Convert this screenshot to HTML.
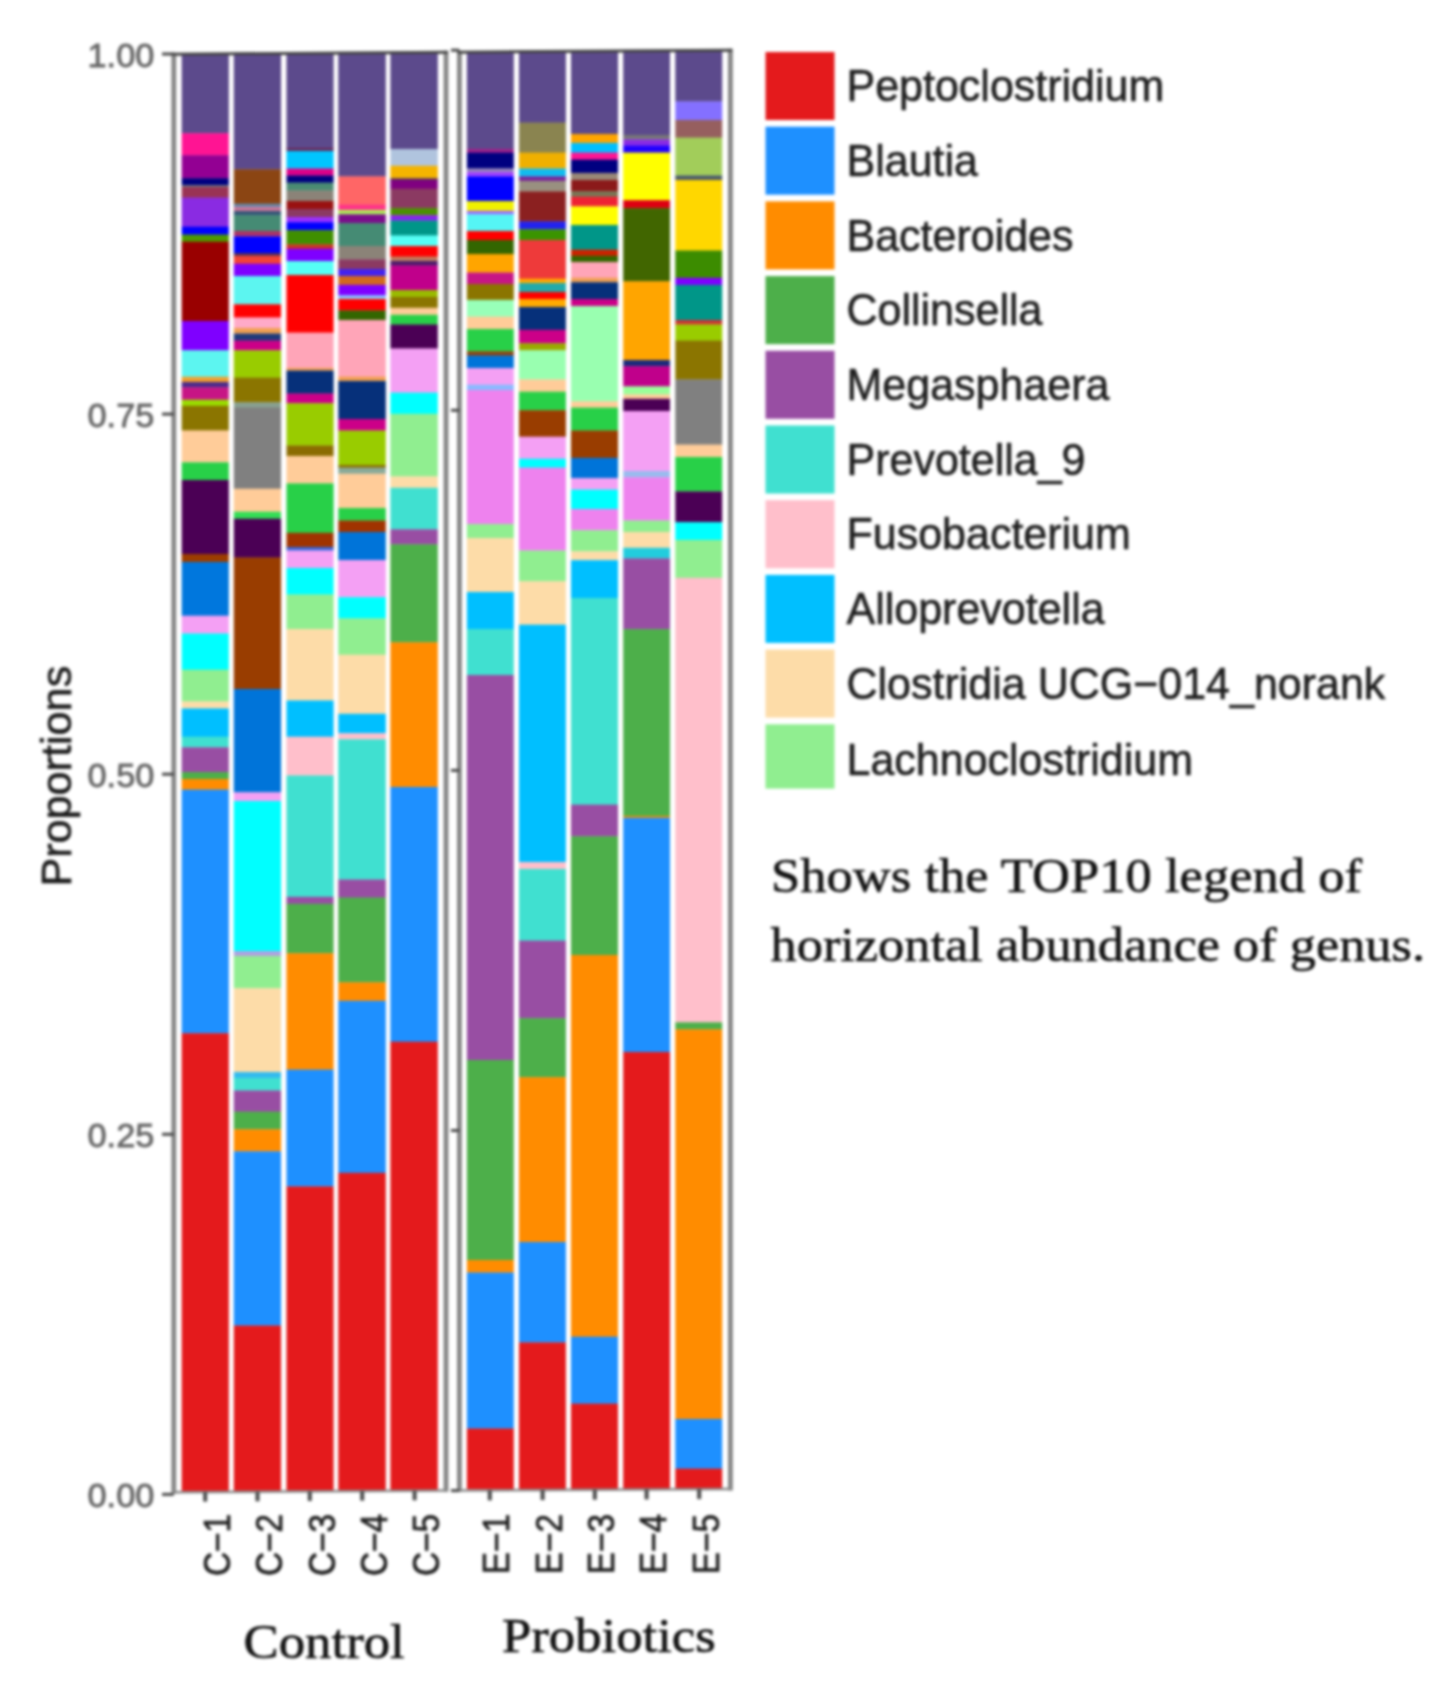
<!DOCTYPE html>
<html><head><meta charset="utf-8"><title>Genus abundance</title>
<style>html,body{margin:0;padding:0;background:#fff;}svg{display:block;filter:blur(1.5px);}text{font-family:"Liberation Sans",sans-serif;}.sf{font-family:"Liberation Serif",serif;}</style></head><body>
<svg width="1449" height="1701" viewBox="0 0 1449 1701">
<rect x="0" y="0" width="1449" height="1701" fill="#fff"/>
<rect x="181.7" y="52.95" width="47.1" height="80.6" fill="#5C4A8C"/>
<rect x="181.7" y="133.2" width="47.1" height="22.35" fill="#FF1493"/>
<rect x="181.7" y="155.2" width="47.1" height="23.35" fill="#930093"/>
<rect x="181.7" y="178.2" width="47.1" height="7.35" fill="#000080"/>
<rect x="181.7" y="185.2" width="47.1" height="2.15" fill="#777777"/>
<rect x="181.7" y="187" width="47.1" height="10.95" fill="#993355"/>
<rect x="181.7" y="197.6" width="47.1" height="29.45" fill="#8A2BE2"/>
<rect x="181.7" y="226.7" width="47.1" height="8.25" fill="#0000FF"/>
<rect x="181.7" y="234.6" width="47.1" height="7.45" fill="#4C9A00"/>
<rect x="181.7" y="241.7" width="47.1" height="79.65" fill="#990000"/>
<rect x="181.7" y="321" width="47.1" height="29.65" fill="#7F00FF"/>
<rect x="181.7" y="350.3" width="47.1" height="26.75" fill="#5CF5F0"/>
<rect x="181.7" y="376.7" width="47.1" height="5.65" fill="#F0A030"/>
<rect x="181.7" y="382" width="47.1" height="5.65" fill="#4B2A8A"/>
<rect x="181.7" y="387.3" width="47.1" height="12.75" fill="#C71585"/>
<rect x="181.7" y="399.7" width="47.1" height="6.45" fill="#99DD00"/>
<rect x="181.7" y="405.8" width="47.1" height="25.05" fill="#8B7500"/>
<rect x="181.7" y="430.5" width="47.1" height="32.15" fill="#FFCC99"/>
<rect x="181.7" y="462.3" width="47.1" height="18.05" fill="#28D048"/>
<rect x="181.7" y="480" width="47.1" height="74.35" fill="#4B0055"/>
<rect x="181.7" y="554" width="47.1" height="8.35" fill="#9C3D00"/>
<rect x="181.7" y="562" width="47.1" height="54.05" fill="#0077DD"/>
<rect x="181.7" y="615.7" width="47.1" height="18.15" fill="#F4A0F4"/>
<rect x="181.7" y="633.5" width="47.1" height="36.55" fill="#00FFFF"/>
<rect x="181.7" y="669.7" width="47.1" height="32.05" fill="#90EE90"/>
<rect x="181.7" y="701.4" width="47.1" height="7.45" fill="#FDDCA8"/>
<rect x="181.7" y="708.5" width="47.1" height="28.55" fill="#00BFFF"/>
<rect x="181.7" y="736.7" width="47.1" height="10.95" fill="#40E0D0"/>
<rect x="181.7" y="747.3" width="47.1" height="25.05" fill="#984EA3"/>
<rect x="181.7" y="772" width="47.1" height="7.35" fill="#4DAF4A"/>
<rect x="181.7" y="779" width="47.1" height="10.95" fill="#FF8C00"/>
<rect x="181.7" y="789.6" width="47.1" height="243.95" fill="#1E90FF"/>
<rect x="181.7" y="1033.2" width="47.1" height="458.15" fill="#E41A1C"/>
<rect x="233.8" y="52.59" width="47.2" height="117.06" fill="#5C4A8C"/>
<rect x="233.8" y="169.3" width="47.2" height="34.75" fill="#8B4513"/>
<rect x="233.8" y="203.7" width="47.2" height="3.65" fill="#6688AA"/>
<rect x="233.8" y="207" width="47.2" height="4.35" fill="#CC7799"/>
<rect x="233.8" y="211" width="47.2" height="4.55" fill="#335577"/>
<rect x="233.8" y="215.2" width="47.2" height="16.15" fill="#458B74"/>
<rect x="233.8" y="231" width="47.2" height="5.75" fill="#AA3366"/>
<rect x="233.8" y="236.4" width="47.2" height="16.95" fill="#0000FF"/>
<rect x="233.8" y="253" width="47.2" height="3.15" fill="#553355"/>
<rect x="233.8" y="255.8" width="47.2" height="8.25" fill="#F44336"/>
<rect x="233.8" y="263.7" width="47.2" height="12.65" fill="#7F00FF"/>
<rect x="233.8" y="276" width="47.2" height="28.65" fill="#5CF5F0"/>
<rect x="233.8" y="304.3" width="47.2" height="13.55" fill="#FF0000"/>
<rect x="233.8" y="317.5" width="47.2" height="10.85" fill="#FFAAC8"/>
<rect x="233.8" y="328" width="47.2" height="5.85" fill="#F0A050"/>
<rect x="233.8" y="333.5" width="47.2" height="7.45" fill="#1F3A7A"/>
<rect x="233.8" y="340.6" width="47.2" height="10.05" fill="#CC0088"/>
<rect x="233.8" y="350.3" width="47.2" height="27.65" fill="#99CC00"/>
<rect x="233.8" y="377.6" width="47.2" height="25.05" fill="#8B7500"/>
<rect x="233.8" y="402.3" width="47.2" height="5.65" fill="#88A090"/>
<rect x="233.8" y="407.6" width="47.2" height="81.45" fill="#808080"/>
<rect x="233.8" y="488.7" width="47.2" height="23.35" fill="#FFCC99"/>
<rect x="233.8" y="511.7" width="47.2" height="7.35" fill="#33DD55"/>
<rect x="233.8" y="518.7" width="47.2" height="39.15" fill="#4B0055"/>
<rect x="233.8" y="557.5" width="47.2" height="131.85" fill="#993D00"/>
<rect x="233.8" y="689" width="47.2" height="103.65" fill="#0074D9"/>
<rect x="233.8" y="792.3" width="47.2" height="9.05" fill="#F4A0F4"/>
<rect x="233.8" y="801" width="47.2" height="150.45" fill="#00FFFF"/>
<rect x="233.8" y="951.1" width="47.2" height="5.25" fill="#B0A0E0"/>
<rect x="233.8" y="956" width="47.2" height="32.55" fill="#90EE90"/>
<rect x="233.8" y="988.2" width="47.2" height="84.15" fill="#FDDCA8"/>
<rect x="233.8" y="1072" width="47.2" height="6.35" fill="#33BBEE"/>
<rect x="233.8" y="1078" width="47.2" height="12.85" fill="#40E0D0"/>
<rect x="233.8" y="1090.5" width="47.2" height="21.45" fill="#984EA3"/>
<rect x="233.8" y="1111.6" width="47.2" height="18.05" fill="#4DAF4A"/>
<rect x="233.8" y="1129.3" width="47.2" height="22.35" fill="#FF8C00"/>
<rect x="233.8" y="1151.3" width="47.2" height="174.55" fill="#1E90FF"/>
<rect x="233.8" y="1325.5" width="47.2" height="165.85" fill="#E41A1C"/>
<rect x="286.5" y="52.22" width="47.1" height="96.13" fill="#5C4A8C"/>
<rect x="286.5" y="148" width="47.1" height="3.35" fill="#6A2A5A"/>
<rect x="286.5" y="151" width="47.1" height="17.85" fill="#00C5FF"/>
<rect x="286.5" y="168.5" width="47.1" height="7.35" fill="#DD0088"/>
<rect x="286.5" y="175.5" width="47.1" height="7.45" fill="#000080"/>
<rect x="286.5" y="182.6" width="47.1" height="8.25" fill="#4A8B73"/>
<rect x="286.5" y="190.5" width="47.1" height="10.85" fill="#8B8378"/>
<rect x="286.5" y="201" width="47.1" height="8.35" fill="#991111"/>
<rect x="286.5" y="209" width="47.1" height="8.35" fill="#8B3A62"/>
<rect x="286.5" y="217" width="47.1" height="5.55" fill="#9B30FF"/>
<rect x="286.5" y="222.2" width="47.1" height="8.35" fill="#0000FF"/>
<rect x="286.5" y="230.2" width="47.1" height="14.45" fill="#3F8F00"/>
<rect x="286.5" y="244.3" width="47.1" height="4.75" fill="#CC3322"/>
<rect x="286.5" y="248.7" width="47.1" height="12.65" fill="#7F00FF"/>
<rect x="286.5" y="261" width="47.1" height="14.35" fill="#55FFF5"/>
<rect x="286.5" y="275" width="47.1" height="57.95" fill="#FF0000"/>
<rect x="286.5" y="332.6" width="47.1" height="35.75" fill="#FFA5B8"/>
<rect x="286.5" y="368" width="47.1" height="2.95" fill="#F0A050"/>
<rect x="286.5" y="370.6" width="47.1" height="23.25" fill="#06307A"/>
<rect x="286.5" y="393.5" width="47.1" height="10.05" fill="#CC0088"/>
<rect x="286.5" y="403.2" width="47.1" height="42.65" fill="#99CC00"/>
<rect x="286.5" y="445.5" width="47.1" height="10.85" fill="#8B6C00"/>
<rect x="286.5" y="456" width="47.1" height="27.75" fill="#FFCC99"/>
<rect x="286.5" y="483.4" width="47.1" height="49.75" fill="#28D048"/>
<rect x="286.5" y="532.8" width="47.1" height="14.55" fill="#A03300"/>
<rect x="286.5" y="547" width="47.1" height="3.85" fill="#3366DD"/>
<rect x="286.5" y="550.5" width="47.1" height="17.85" fill="#F4A0F4"/>
<rect x="286.5" y="568" width="47.1" height="26.85" fill="#00FFFF"/>
<rect x="286.5" y="594.5" width="47.1" height="34.85" fill="#90EE90"/>
<rect x="286.5" y="629" width="47.1" height="71.85" fill="#FDDCA8"/>
<rect x="286.5" y="700.5" width="47.1" height="36.55" fill="#00BFFF"/>
<rect x="286.5" y="736.7" width="47.1" height="39.15" fill="#FFBFCB"/>
<rect x="286.5" y="775.5" width="47.1" height="121.65" fill="#40E0D0"/>
<rect x="286.5" y="896.8" width="47.1" height="7.35" fill="#984EA3"/>
<rect x="286.5" y="903.8" width="47.1" height="49.75" fill="#4DAF4A"/>
<rect x="286.5" y="953.2" width="47.1" height="116.75" fill="#FF8C00"/>
<rect x="286.5" y="1069.6" width="47.1" height="117.15" fill="#1E90FF"/>
<rect x="286.5" y="1186.4" width="47.1" height="304.95" fill="#E41A1C"/>
<rect x="338.3" y="51.86" width="47.5" height="124.89" fill="#5C4A8C"/>
<rect x="338.3" y="176.4" width="47.5" height="28.55" fill="#FF6666"/>
<rect x="338.3" y="204.6" width="47.5" height="5.75" fill="#FF3388"/>
<rect x="338.3" y="210" width="47.5" height="4.65" fill="#AAEE55"/>
<rect x="338.3" y="214.3" width="47.5" height="9.05" fill="#7B0E8B"/>
<rect x="338.3" y="223" width="47.5" height="23.35" fill="#458B74"/>
<rect x="338.3" y="246" width="47.5" height="13.65" fill="#8B8378"/>
<rect x="338.3" y="259.3" width="47.5" height="10.05" fill="#8B3A62"/>
<rect x="338.3" y="269" width="47.5" height="7.35" fill="#4422EE"/>
<rect x="338.3" y="276" width="47.5" height="9.25" fill="#D2691E"/>
<rect x="338.3" y="284.9" width="47.5" height="10.85" fill="#7F00FF"/>
<rect x="338.3" y="295.4" width="47.5" height="3.95" fill="#88CCFF"/>
<rect x="338.3" y="299" width="47.5" height="11.75" fill="#FF0000"/>
<rect x="338.3" y="310.4" width="47.5" height="9.95" fill="#336600"/>
<rect x="338.3" y="320" width="47.5" height="57.05" fill="#FFA5B8"/>
<rect x="338.3" y="376.7" width="47.5" height="4.65" fill="#F0A050"/>
<rect x="338.3" y="381" width="47.5" height="38.35" fill="#06307A"/>
<rect x="338.3" y="419" width="47.5" height="11.85" fill="#CC0088"/>
<rect x="338.3" y="430.5" width="47.5" height="34.85" fill="#99CC00"/>
<rect x="338.3" y="465" width="47.5" height="2.95" fill="#8B6C00"/>
<rect x="338.3" y="467.6" width="47.5" height="6.45" fill="#88AA99"/>
<rect x="338.3" y="473.7" width="47.5" height="34.65" fill="#FFCC99"/>
<rect x="338.3" y="508" width="47.5" height="12.85" fill="#28D048"/>
<rect x="338.3" y="520.5" width="47.5" height="11.85" fill="#A03300"/>
<rect x="338.3" y="532" width="47.5" height="28.35" fill="#0074D9"/>
<rect x="338.3" y="560" width="47.5" height="37.55" fill="#F4A0F4"/>
<rect x="338.3" y="597.2" width="47.5" height="21.55" fill="#00FFFF"/>
<rect x="338.3" y="618.4" width="47.5" height="36.65" fill="#90EE90"/>
<rect x="338.3" y="654.7" width="47.5" height="59.45" fill="#FDDCA8"/>
<rect x="338.3" y="713.8" width="47.5" height="19.75" fill="#00BFFF"/>
<rect x="338.3" y="733.2" width="47.5" height="6.45" fill="#FFBFCB"/>
<rect x="338.3" y="739.3" width="47.5" height="140.55" fill="#40E0D0"/>
<rect x="338.3" y="879.5" width="47.5" height="18.45" fill="#984EA3"/>
<rect x="338.3" y="897.6" width="47.5" height="85.05" fill="#4DAF4A"/>
<rect x="338.3" y="982.3" width="47.5" height="18.85" fill="#FF8C00"/>
<rect x="338.3" y="1000.8" width="47.5" height="172.35" fill="#1E90FF"/>
<rect x="338.3" y="1172.8" width="47.5" height="318.55" fill="#E41A1C"/>
<rect x="390.4" y="51.5" width="47.4" height="97.85" fill="#5C4A8C"/>
<rect x="390.4" y="149" width="47.4" height="17.15" fill="#B0C4DE"/>
<rect x="390.4" y="165.8" width="47.4" height="12.75" fill="#F4B400"/>
<rect x="390.4" y="178.2" width="47.4" height="2.15" fill="#553355"/>
<rect x="390.4" y="180" width="47.4" height="9.05" fill="#800080"/>
<rect x="390.4" y="188.7" width="47.4" height="19.75" fill="#8B3A62"/>
<rect x="390.4" y="208.1" width="47.4" height="7.45" fill="#4A9000"/>
<rect x="390.4" y="215.2" width="47.4" height="5.65" fill="#8822EE"/>
<rect x="390.4" y="220.5" width="47.4" height="15.35" fill="#009688"/>
<rect x="390.4" y="235.5" width="47.4" height="10.85" fill="#55FFF5"/>
<rect x="390.4" y="246" width="47.4" height="10.95" fill="#FF0000"/>
<rect x="390.4" y="256.6" width="47.4" height="4.75" fill="#C08060"/>
<rect x="390.4" y="261" width="47.4" height="4.85" fill="#4B1A6A"/>
<rect x="390.4" y="265.5" width="47.4" height="24.85" fill="#C0008B"/>
<rect x="390.4" y="290" width="47.4" height="7.35" fill="#99BB00"/>
<rect x="390.4" y="297" width="47.4" height="11.15" fill="#8B7500"/>
<rect x="390.4" y="307.8" width="47.4" height="7.35" fill="#FFCC99"/>
<rect x="390.4" y="314.8" width="47.4" height="10.05" fill="#28D048"/>
<rect x="390.4" y="324.5" width="47.4" height="24.35" fill="#4B0055"/>
<rect x="390.4" y="348.5" width="47.4" height="44.45" fill="#F4A0F4"/>
<rect x="390.4" y="392.6" width="47.4" height="21.55" fill="#00FFFF"/>
<rect x="390.4" y="413.8" width="47.4" height="62.95" fill="#90EE90"/>
<rect x="390.4" y="476.4" width="47.4" height="11.75" fill="#FDDCA8"/>
<rect x="390.4" y="487.8" width="47.4" height="41.85" fill="#40E0D0"/>
<rect x="390.4" y="529.3" width="47.4" height="15.35" fill="#984EA3"/>
<rect x="390.4" y="544.3" width="47.4" height="98.35" fill="#4DAF4A"/>
<rect x="390.4" y="642.3" width="47.4" height="145.05" fill="#FF8C00"/>
<rect x="390.4" y="787" width="47.4" height="255.05" fill="#1E90FF"/>
<rect x="390.4" y="1041.7" width="47.4" height="449.47" fill="#E41A1C"/>
<rect x="466.9" y="50.97" width="46.9" height="98.38" fill="#5C4A8C"/>
<rect x="466.9" y="149" width="46.9" height="3.95" fill="#A0208A"/>
<rect x="466.9" y="152.6" width="46.9" height="16.25" fill="#000080"/>
<rect x="466.9" y="168.5" width="46.9" height="3.85" fill="#9988BB"/>
<rect x="466.9" y="172" width="46.9" height="4.75" fill="#A040FF"/>
<rect x="466.9" y="176.4" width="46.9" height="24.95" fill="#0000FF"/>
<rect x="466.9" y="201" width="46.9" height="10.15" fill="#F0F000"/>
<rect x="466.9" y="210.8" width="46.9" height="3.85" fill="#9966FF"/>
<rect x="466.9" y="214.3" width="46.9" height="17.05" fill="#55F5F5"/>
<rect x="466.9" y="231" width="46.9" height="9.35" fill="#FF0000"/>
<rect x="466.9" y="240" width="46.9" height="14.35" fill="#336600"/>
<rect x="466.9" y="254" width="46.9" height="18.85" fill="#FFA500"/>
<rect x="466.9" y="272.5" width="46.9" height="11.85" fill="#C71585"/>
<rect x="466.9" y="284" width="46.9" height="16.25" fill="#8B7500"/>
<rect x="466.9" y="299.9" width="46.9" height="17.05" fill="#98FFB8"/>
<rect x="466.9" y="316.6" width="46.9" height="12.75" fill="#FFCC99"/>
<rect x="466.9" y="329" width="46.9" height="22.55" fill="#28D048"/>
<rect x="466.9" y="351.2" width="46.9" height="4.75" fill="#8B4513"/>
<rect x="466.9" y="355.6" width="46.9" height="12.75" fill="#0074D9"/>
<rect x="466.9" y="368" width="46.9" height="17.05" fill="#F4A0F4"/>
<rect x="466.9" y="384.7" width="46.9" height="5.65" fill="#88BBFF"/>
<rect x="466.9" y="390" width="46.9" height="134.35" fill="#EE82EE"/>
<rect x="466.9" y="524" width="46.9" height="14.35" fill="#90EE90"/>
<rect x="466.9" y="538" width="46.9" height="54.35" fill="#FDDCA8"/>
<rect x="466.9" y="592" width="46.9" height="37.35" fill="#00BFFF"/>
<rect x="466.9" y="629" width="46.9" height="46.35" fill="#40E0D0"/>
<rect x="466.9" y="675" width="46.9" height="385.35" fill="#984EA3"/>
<rect x="466.9" y="1060" width="46.9" height="200.35" fill="#4DAF4A"/>
<rect x="466.9" y="1260" width="46.9" height="12.85" fill="#FF8C00"/>
<rect x="466.9" y="1272.5" width="46.9" height="156.35" fill="#1E90FF"/>
<rect x="466.9" y="1428.5" width="46.9" height="60.85" fill="#E41A1C"/>
<rect x="519" y="50.61" width="46.9" height="72.34" fill="#5C4A8C"/>
<rect x="519" y="122.6" width="46.9" height="30.35" fill="#8A8450"/>
<rect x="519" y="152.6" width="46.9" height="16.25" fill="#F0B000"/>
<rect x="519" y="168.5" width="46.9" height="8.25" fill="#11BBEE"/>
<rect x="519" y="176.4" width="46.9" height="4.75" fill="#772299"/>
<rect x="519" y="180.8" width="46.9" height="10.95" fill="#999080"/>
<rect x="519" y="191.4" width="46.9" height="30.35" fill="#8B2020"/>
<rect x="519" y="221.4" width="46.9" height="8.25" fill="#2222EE"/>
<rect x="519" y="229.3" width="46.9" height="11.05" fill="#3A9400"/>
<rect x="519" y="240" width="46.9" height="39.05" fill="#EE3A3A"/>
<rect x="519" y="278.7" width="46.9" height="4.65" fill="#FFAA00"/>
<rect x="519" y="283" width="46.9" height="9.35" fill="#22AAAA"/>
<rect x="519" y="292" width="46.9" height="7.35" fill="#FF0000"/>
<rect x="519" y="299" width="46.9" height="8.35" fill="#FFAA00"/>
<rect x="519" y="307" width="46.9" height="23.15" fill="#06307A"/>
<rect x="519" y="329.8" width="46.9" height="13.75" fill="#CC0088"/>
<rect x="519" y="343.2" width="46.9" height="7.45" fill="#99AA00"/>
<rect x="519" y="350.3" width="46.9" height="29.45" fill="#99FFB0"/>
<rect x="519" y="379.4" width="46.9" height="12.65" fill="#FFCC99"/>
<rect x="519" y="391.7" width="46.9" height="18.85" fill="#28D048"/>
<rect x="519" y="410.2" width="46.9" height="26.85" fill="#993D00"/>
<rect x="519" y="436.7" width="46.9" height="22.35" fill="#F4A0F4"/>
<rect x="519" y="458.7" width="46.9" height="9.25" fill="#00FFFF"/>
<rect x="519" y="467.6" width="46.9" height="83.25" fill="#EE82EE"/>
<rect x="519" y="550.5" width="46.9" height="31.15" fill="#90EE90"/>
<rect x="519" y="581.3" width="46.9" height="43.75" fill="#FDDCA8"/>
<rect x="519" y="624.7" width="46.9" height="237.65" fill="#00BFFF"/>
<rect x="519" y="862" width="46.9" height="7.35" fill="#FFBFCB"/>
<rect x="519" y="869" width="46.9" height="71.95" fill="#40E0D0"/>
<rect x="519" y="940.6" width="46.9" height="77.95" fill="#984EA3"/>
<rect x="519" y="1018.2" width="46.9" height="59.35" fill="#4DAF4A"/>
<rect x="519" y="1077.2" width="46.9" height="165.15" fill="#FF8C00"/>
<rect x="519" y="1242" width="46.9" height="100.75" fill="#1E90FF"/>
<rect x="519" y="1342.4" width="46.9" height="146.95" fill="#E41A1C"/>
<rect x="571" y="50.24" width="47" height="84.11" fill="#5C4A8C"/>
<rect x="571" y="134" width="47" height="9.25" fill="#FFA500"/>
<rect x="571" y="142.9" width="47" height="10.05" fill="#00BFFF"/>
<rect x="571" y="152.6" width="47" height="7.35" fill="#FF1493"/>
<rect x="571" y="159.6" width="47" height="13.65" fill="#000080"/>
<rect x="571" y="172.9" width="47" height="7.45" fill="#998877"/>
<rect x="571" y="180" width="47" height="11.75" fill="#8B1A1A"/>
<rect x="571" y="191.4" width="47" height="5.65" fill="#777755"/>
<rect x="571" y="196.7" width="47" height="10.05" fill="#EE2233"/>
<rect x="571" y="206.4" width="47" height="18.95" fill="#FFFF00"/>
<rect x="571" y="225" width="47" height="24.95" fill="#009688"/>
<rect x="571" y="249.6" width="47" height="6.55" fill="#CC2200"/>
<rect x="571" y="255.8" width="47" height="6.55" fill="#336600"/>
<rect x="571" y="262" width="47" height="16.15" fill="#FFA5B8"/>
<rect x="571" y="277.8" width="47" height="4.75" fill="#F0A050"/>
<rect x="571" y="282.2" width="47" height="17.15" fill="#06307A"/>
<rect x="571" y="299" width="47" height="7.35" fill="#CC0088"/>
<rect x="571" y="306" width="47" height="95.75" fill="#99FFB0"/>
<rect x="571" y="401.4" width="47" height="6.55" fill="#FFCC99"/>
<rect x="571" y="407.6" width="47" height="23.25" fill="#28D048"/>
<rect x="571" y="430.5" width="47" height="27.75" fill="#993D00"/>
<rect x="571" y="457.9" width="47" height="20.55" fill="#0074D9"/>
<rect x="571" y="478.1" width="47" height="11.85" fill="#F4A0F4"/>
<rect x="571" y="489.6" width="47" height="19.75" fill="#00FFFF"/>
<rect x="571" y="509" width="47" height="21.55" fill="#EE82EE"/>
<rect x="571" y="530.2" width="47" height="21.45" fill="#90EE90"/>
<rect x="571" y="551.3" width="47" height="9.25" fill="#FDDCA8"/>
<rect x="571" y="560.2" width="47" height="38.15" fill="#00BFFF"/>
<rect x="571" y="598" width="47" height="206.95" fill="#40E0D0"/>
<rect x="571" y="804.6" width="47" height="32.05" fill="#984EA3"/>
<rect x="571" y="836.3" width="47" height="119.05" fill="#4DAF4A"/>
<rect x="571" y="955" width="47" height="382.05" fill="#FF8C00"/>
<rect x="571" y="1336.7" width="47" height="67.25" fill="#1E90FF"/>
<rect x="571" y="1403.6" width="47" height="85.75" fill="#E41A1C"/>
<rect x="623.2" y="49.88" width="46.8" height="85.47" fill="#5C4A8C"/>
<rect x="623.2" y="135" width="46.8" height="4.75" fill="#777777"/>
<rect x="623.2" y="139.4" width="46.8" height="6.45" fill="#8A2BE2"/>
<rect x="623.2" y="145.5" width="46.8" height="7.45" fill="#2200FF"/>
<rect x="623.2" y="152.6" width="46.8" height="47.95" fill="#FFFF00"/>
<rect x="623.2" y="200.2" width="46.8" height="8.25" fill="#DD0011"/>
<rect x="623.2" y="208.1" width="46.8" height="73.55" fill="#416600"/>
<rect x="623.2" y="281.3" width="46.8" height="79.05" fill="#FFA500"/>
<rect x="623.2" y="360" width="46.8" height="6.55" fill="#1A2A7A"/>
<rect x="623.2" y="366.2" width="46.8" height="20.55" fill="#C0008B"/>
<rect x="623.2" y="386.4" width="46.8" height="8.35" fill="#99FF99"/>
<rect x="623.2" y="394.4" width="46.8" height="4.75" fill="#FFCC99"/>
<rect x="623.2" y="398.8" width="46.8" height="12.55" fill="#4B0055"/>
<rect x="623.2" y="411" width="46.8" height="60.35" fill="#F4A0F4"/>
<rect x="623.2" y="471" width="46.8" height="6.65" fill="#99BBEE"/>
<rect x="623.2" y="477.3" width="46.8" height="43.55" fill="#EE82EE"/>
<rect x="623.2" y="520.5" width="46.8" height="11.85" fill="#90EE90"/>
<rect x="623.2" y="532" width="46.8" height="16.15" fill="#FDDCA8"/>
<rect x="623.2" y="547.8" width="46.8" height="10.95" fill="#22CCDD"/>
<rect x="623.2" y="558.4" width="46.8" height="71.05" fill="#984EA3"/>
<rect x="623.2" y="629.1" width="46.8" height="187.25" fill="#4DAF4A"/>
<rect x="623.2" y="816" width="46.8" height="2.15" fill="#FF8C00"/>
<rect x="623.2" y="817.8" width="46.8" height="234.55" fill="#1E90FF"/>
<rect x="623.2" y="1052" width="46.8" height="437.35" fill="#E41A1C"/>
<rect x="675.3" y="49.52" width="46.9" height="52.23" fill="#5C4A8C"/>
<rect x="675.3" y="101.4" width="46.9" height="18.95" fill="#8470FF"/>
<rect x="675.3" y="120" width="46.9" height="17.95" fill="#965F5F"/>
<rect x="675.3" y="137.6" width="46.9" height="38.25" fill="#A2CD5A"/>
<rect x="675.3" y="175.5" width="46.9" height="4.85" fill="#4A5A6A"/>
<rect x="675.3" y="180" width="46.9" height="70.85" fill="#FFD700"/>
<rect x="675.3" y="250.5" width="46.9" height="27.65" fill="#3C8C00"/>
<rect x="675.3" y="277.8" width="46.9" height="7.45" fill="#7F00FF"/>
<rect x="675.3" y="284.9" width="46.9" height="35.45" fill="#009688"/>
<rect x="675.3" y="320" width="46.9" height="4.85" fill="#CC3333"/>
<rect x="675.3" y="324.5" width="46.9" height="16.45" fill="#99CC00"/>
<rect x="675.3" y="340.6" width="46.9" height="39.15" fill="#8B7500"/>
<rect x="675.3" y="379.4" width="46.9" height="65.55" fill="#808080"/>
<rect x="675.3" y="444.6" width="46.9" height="12.75" fill="#FFCC99"/>
<rect x="675.3" y="457" width="46.9" height="34.75" fill="#28D048"/>
<rect x="675.3" y="491.4" width="46.9" height="31.15" fill="#4B0055"/>
<rect x="675.3" y="522.2" width="46.9" height="18.05" fill="#00FFFF"/>
<rect x="675.3" y="539.9" width="46.9" height="38.25" fill="#90EE90"/>
<rect x="675.3" y="577.8" width="46.9" height="444.85" fill="#FFBFCB"/>
<rect x="675.3" y="1022.3" width="46.9" height="7.45" fill="#4DAF4A"/>
<rect x="675.3" y="1029.4" width="46.9" height="389.95" fill="#FF8C00"/>
<rect x="675.3" y="1419" width="46.9" height="49.95" fill="#1E90FF"/>
<rect x="675.3" y="1468.6" width="46.9" height="20.75" fill="#E41A1C"/>
<line x1="173.8" y1="52.67" x2="173.8" y2="1493.78" stroke="#858585" stroke-width="4.8"/>
<line x1="446" y1="50.78" x2="446" y2="1492.12" stroke="#858585" stroke-width="4.8"/>
<line x1="172" y1="54.17" x2="447.8" y2="52.28" stroke="#454545" stroke-width="3"/>
<line x1="172" y1="1492.28" x2="447.8" y2="1490.62" stroke="#8a8a8a" stroke-width="2.5"/>
<line x1="459.4" y1="50.68" x2="459.4" y2="1492.04" stroke="#858585" stroke-width="4.8"/>
<line x1="730.4" y1="48.8" x2="730.4" y2="1490.4" stroke="#858585" stroke-width="4.8"/>
<line x1="457.6" y1="52.18" x2="732.2" y2="50.3" stroke="#454545" stroke-width="3"/>
<line x1="457.6" y1="1490.54" x2="732.2" y2="1488.9" stroke="#8a8a8a" stroke-width="2.5"/>
<line x1="162" y1="54" x2="173.8" y2="54" stroke="#4a4a4a" stroke-width="3"/>
<text transform="translate(154.4,66.8) scale(1,0.99)" font-size="34.4" fill="#666" stroke="#666" stroke-width="0.8" text-anchor="end">1.00</text>
<line x1="162" y1="414.1" x2="173.8" y2="414.1" stroke="#4a4a4a" stroke-width="3"/>
<text transform="translate(154.4,426.9) scale(1,0.99)" font-size="34.4" fill="#666" stroke="#666" stroke-width="0.8" text-anchor="end">0.75</text>
<line x1="162" y1="774.2" x2="173.8" y2="774.2" stroke="#4a4a4a" stroke-width="3"/>
<text transform="translate(154.4,787) scale(1,0.99)" font-size="34.4" fill="#666" stroke="#666" stroke-width="0.8" text-anchor="end">0.50</text>
<line x1="162" y1="1134.3" x2="173.8" y2="1134.3" stroke="#4a4a4a" stroke-width="3"/>
<text transform="translate(154.4,1147.1) scale(1,0.99)" font-size="34.4" fill="#666" stroke="#666" stroke-width="0.8" text-anchor="end">0.25</text>
<line x1="162" y1="1494.4" x2="173.8" y2="1494.4" stroke="#4a4a4a" stroke-width="3"/>
<text transform="translate(154.4,1507.2) scale(1,0.99)" font-size="34.4" fill="#666" stroke="#666" stroke-width="0.8" text-anchor="end">0.00</text>
<line x1="451" y1="50.2" x2="459.4" y2="50.2" stroke="#4a4a4a" stroke-width="3"/>
<line x1="451" y1="410.3" x2="459.4" y2="410.3" stroke="#4a4a4a" stroke-width="3"/>
<line x1="451" y1="770.4" x2="459.4" y2="770.4" stroke="#4a4a4a" stroke-width="3"/>
<line x1="451" y1="1130.5" x2="459.4" y2="1130.5" stroke="#4a4a4a" stroke-width="3"/>
<line x1="451" y1="1490.6" x2="459.4" y2="1490.6" stroke="#4a4a4a" stroke-width="3"/>
<line x1="205.2" y1="1492.09" x2="205.2" y2="1501.59" stroke="#4a4a4a" stroke-width="4"/>
<text transform="translate(230,1514) rotate(-90) scale(0.98,1.1)" font-size="34" fill="#1e1e1e" stroke="#1e1e1e" stroke-width="0.7" text-anchor="end">C−1</text>
<line x1="257.5" y1="1491.77" x2="257.5" y2="1501.27" stroke="#4a4a4a" stroke-width="4"/>
<text transform="translate(282.3,1514) rotate(-90) scale(0.98,1.1)" font-size="34" fill="#1e1e1e" stroke="#1e1e1e" stroke-width="0.7" text-anchor="end">C−2</text>
<line x1="309.8" y1="1491.45" x2="309.8" y2="1500.95" stroke="#4a4a4a" stroke-width="4"/>
<text transform="translate(334.6,1514) rotate(-90) scale(0.98,1.1)" font-size="34" fill="#1e1e1e" stroke="#1e1e1e" stroke-width="0.7" text-anchor="end">C−3</text>
<line x1="362.2" y1="1491.13" x2="362.2" y2="1500.63" stroke="#4a4a4a" stroke-width="4"/>
<text transform="translate(387,1514) rotate(-90) scale(0.98,1.1)" font-size="34" fill="#1e1e1e" stroke="#1e1e1e" stroke-width="0.7" text-anchor="end">C−4</text>
<line x1="414.6" y1="1490.81" x2="414.6" y2="1500.31" stroke="#4a4a4a" stroke-width="4"/>
<text transform="translate(439.4,1514) rotate(-90) scale(0.98,1.1)" font-size="34" fill="#1e1e1e" stroke="#1e1e1e" stroke-width="0.7" text-anchor="end">C−5</text>
<line x1="489.8" y1="1490.36" x2="489.8" y2="1500.36" stroke="#4a4a4a" stroke-width="4"/>
<text transform="translate(509.1,1514) rotate(-90) scale(0.98,1.1)" font-size="34" fill="#1e1e1e" stroke="#1e1e1e" stroke-width="0.7" text-anchor="end">E−1</text>
<line x1="542.6" y1="1490.04" x2="542.6" y2="1500.04" stroke="#4a4a4a" stroke-width="4"/>
<text transform="translate(561.9,1514) rotate(-90) scale(0.98,1.1)" font-size="34" fill="#1e1e1e" stroke="#1e1e1e" stroke-width="0.7" text-anchor="end">E−2</text>
<line x1="594.8" y1="1489.72" x2="594.8" y2="1499.72" stroke="#4a4a4a" stroke-width="4"/>
<text transform="translate(614.1,1514) rotate(-90) scale(0.98,1.1)" font-size="34" fill="#1e1e1e" stroke="#1e1e1e" stroke-width="0.7" text-anchor="end">E−3</text>
<line x1="646.6" y1="1489.41" x2="646.6" y2="1499.41" stroke="#4a4a4a" stroke-width="4"/>
<text transform="translate(665.9,1514) rotate(-90) scale(0.98,1.1)" font-size="34" fill="#1e1e1e" stroke="#1e1e1e" stroke-width="0.7" text-anchor="end">E−4</text>
<line x1="699.2" y1="1489.09" x2="699.2" y2="1499.09" stroke="#4a4a4a" stroke-width="4"/>
<text transform="translate(718.5,1514) rotate(-90) scale(0.98,1.1)" font-size="34" fill="#1e1e1e" stroke="#1e1e1e" stroke-width="0.7" text-anchor="end">E−5</text>
<text transform="translate(71,776.2) rotate(-90)" font-size="43.2" fill="#1a1a1a" stroke="#1a1a1a" stroke-width="0.6" text-anchor="middle">Proportions</text>
<text class="sf" transform="translate(243.5,1657.8) scale(1,0.93)" font-size="52.8" fill="#111" stroke="#111" stroke-width="0.7">Control</text>
<text class="sf" transform="translate(502,1652.2) scale(1,0.93)" font-size="52.7" fill="#111" stroke="#111" stroke-width="0.7">Probiotics</text>
<rect x="765.5" y="52" width="69" height="68" fill="#E41A1C"/>
<text transform="translate(846.5,101.2) scale(1,1.035)" font-size="43" fill="#1e1e1e" stroke="#1e1e1e" stroke-width="0.6">Peptoclostridium</text>
<rect x="765.5" y="126.7" width="69" height="68" fill="#1E90FF"/>
<text transform="translate(846.5,175.9) scale(1,1.035)" font-size="43" fill="#1e1e1e" stroke="#1e1e1e" stroke-width="0.6">Blautia</text>
<rect x="765.5" y="201.4" width="69" height="68" fill="#FF8C00"/>
<text transform="translate(846.5,250.6) scale(1,1.035)" font-size="43" fill="#1e1e1e" stroke="#1e1e1e" stroke-width="0.6">Bacteroides</text>
<rect x="765.5" y="276.1" width="69" height="68" fill="#4DAF4A"/>
<text transform="translate(846.5,325.3) scale(1,1.035)" font-size="43" fill="#1e1e1e" stroke="#1e1e1e" stroke-width="0.6">Collinsella</text>
<rect x="765.5" y="350.8" width="69" height="68" fill="#984EA3"/>
<text transform="translate(846.5,400) scale(1,1.035)" font-size="43" fill="#1e1e1e" stroke="#1e1e1e" stroke-width="0.6">Megasphaera</text>
<rect x="765.5" y="425.5" width="69" height="68" fill="#40E0D0"/>
<text transform="translate(846.5,474.7) scale(1,1.035)" font-size="43" fill="#1e1e1e" stroke="#1e1e1e" stroke-width="0.6">Prevotella_9</text>
<rect x="765.5" y="500.2" width="69" height="68" fill="#FFBFCB"/>
<text transform="translate(846.5,549.4) scale(1,1.035)" font-size="43" fill="#1e1e1e" stroke="#1e1e1e" stroke-width="0.6">Fusobacterium</text>
<rect x="765.5" y="574.9" width="69" height="68" fill="#00BFFF"/>
<text transform="translate(846.5,624.1) scale(1,1.035)" font-size="43" fill="#1e1e1e" stroke="#1e1e1e" stroke-width="0.6">Alloprevotella</text>
<rect x="765.5" y="649.6" width="69" height="68" fill="#FDDCA8"/>
<text transform="translate(846.5,698.8) scale(1,1.035)" font-size="43" fill="#1e1e1e" stroke="#1e1e1e" stroke-width="0.6">Clostridia UCG−014_norank</text>
<rect x="765.5" y="724.3" width="69" height="64.3" fill="#90EE90"/>
<text transform="translate(846.5,774.8) scale(1,1.035)" font-size="43" fill="#1e1e1e" stroke="#1e1e1e" stroke-width="0.6">Lachnoclostridium</text>
<text class="sf" transform="translate(771,892) scale(1,0.93)" font-size="52.6" fill="#111" stroke="#111" stroke-width="0.6">Shows the TOP10 legend of</text>
<text class="sf" transform="translate(770.5,960.5) scale(1,0.93)" font-size="52.4" fill="#111" stroke="#111" stroke-width="0.6">horizontal abundance of genus.</text>
</svg></body></html>
